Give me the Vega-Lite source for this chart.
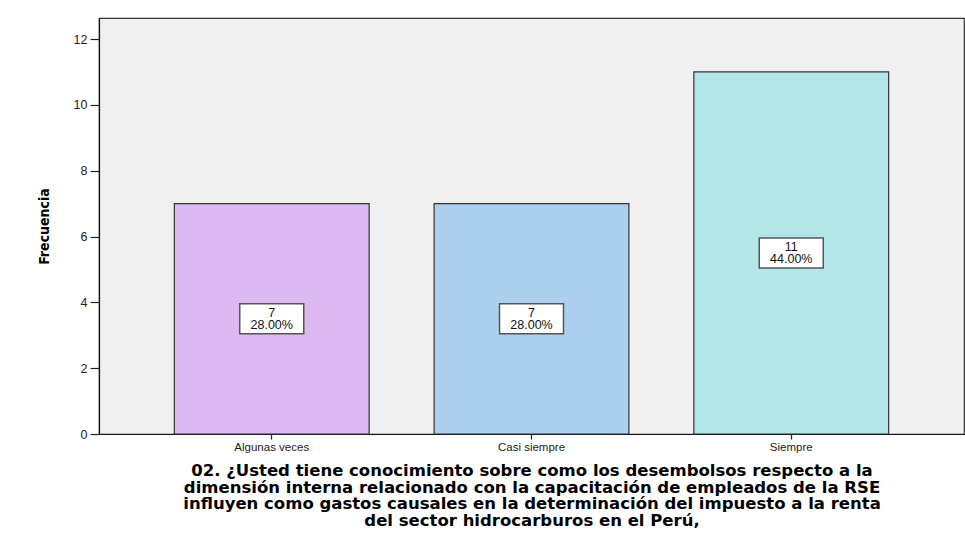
{
  "$schema": "https://vega.github.io/schema/vega-lite/v6.json",
  "width": 865,
  "height": 416,
  "autosize": "none",
  "padding": {"left": 99, "top": 18, "right": 1, "bottom": 102},
  "background": "white",
  "data": {
    "values": [
      {"categoria": "Algunas veces", "frecuencia": 7, "porcentaje": "28.00%"},
      {"categoria": "Casi siempre", "frecuencia": 7, "porcentaje": "28.00%"},
      {"categoria": "Siempre", "frecuencia": 11, "porcentaje": "44.00%"}
    ]
  },
  "transform": [
    {"calculate": "datum.frecuencia / 2", "as": "medio"},
    {"calculate": "[datum.frecuencia + '', datum.porcentaje]", "as": "etiqueta"}
  ],
  "encoding": {
    "x": {
      "field": "categoria",
      "type": "nominal",
      "sort": null,
      "scale": {"paddingInner": 0.25, "paddingOuter": 0.29},
      "axis": {
        "labelAngle": 0,
        "labelFont": "Liberation Sans",
        "labelFontSize": 11.5,
        "labelColor": "#222",
        "labelPadding": 2,
        "tickColor": "#222",
        "tickSize": 5,
        "domainColor": "#111",
        "title": [
          "02. ¿Usted tiene conocimiento sobre como los desembolsos respecto a la",
          "dimensión interna relacionado con la capacitación de empleados de la RSE",
          "influyen como gastos causales en la determinación del impuesto a la renta",
          "del sector hidrocarburos en el Perú,"
        ],
        "titleFont": "DejaVu Sans",
        "titleFontWeight": "bold",
        "titleFontSize": 16.5,
        "titleLineHeight": 16.5,
        "titleColor": "#000",
        "titlePadding": 10
      }
    }
  },
  "layer": [
    {
      "mark": {"type": "bar", "stroke": "#333", "strokeWidth": 1.2},
      "encoding": {
        "y": {
          "field": "frecuencia",
          "type": "quantitative",
          "scale": {"domain": [0, 12.64], "nice": false},
          "axis": {
            "values": [0, 2, 4, 6, 8, 10, 12],
            "grid": false,
            "labelFont": "Liberation Sans",
            "labelFontSize": 12.5,
            "labelColor": "#222",
            "labelPadding": 3,
            "tickSize": 9,
            "tickColor": "#222",
            "domainColor": "#111",
            "title": "Frecuencia",
            "titleFont": "DejaVu Sans Condensed",
            "titleFontSize": 14,
            "titleFontWeight": "bold",
            "titleColor": "#000",
            "titlePadding": 22
          }
        },
        "color": {
          "field": "categoria",
          "type": "nominal",
          "sort": null,
          "scale": {"range": ["#ddb9f1", "#accfee", "#b3e6e8"]},
          "legend": null
        }
      }
    },
    {
      "mark": {
        "type": "point",
        "shape": "M-1,-0.47L1,-0.47L1,0.47L-1,0.47Z",
        "size": 4096,
        "filled": true,
        "fill": "white",
        "stroke": "#555",
        "strokeWidth": 1.5,
        "opacity": 1
      },
      "encoding": {
        "y": {"field": "medio", "type": "quantitative"}
      }
    },
    {
      "mark": {
        "type": "text",
        "font": "Liberation Sans",
        "fontSize": 12.5,
        "color": "#111",
        "lineHeight": 12.5,
        "baseline": "middle",
        "dy": -6
      },
      "encoding": {
        "y": {"field": "medio", "type": "quantitative"},
        "text": {"field": "etiqueta"}
      }
    }
  ],
  "config": {
    "view": {"fill": "#f0f0f0", "stroke": "#333", "strokeWidth": 1.2},
    "axis": {"domainWidth": 1.2, "tickWidth": 1.2}
  }
}
